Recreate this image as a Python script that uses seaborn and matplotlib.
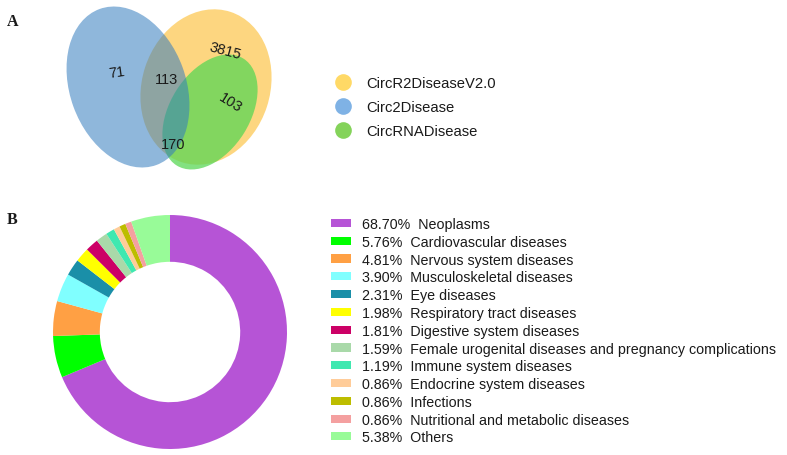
import matplotlib
matplotlib.use("Agg")
import matplotlib.pyplot as plt
from matplotlib.patches import Ellipse
from matplotlib.lines import Line2D
import seaborn as sns

# Panel A: Venn counts
venn_sets = ["CircR2DiseaseV2.0", "Circ2Disease", "CircRNADisease"]
venn_set_colors = ["#FFD966", "#7FB2E5", "#84D35A"]
venn_regions = ["Circ2Disease only", "Circ2Disease & V2.0", "V2.0 only", "V2.0 & CircRNADisease", "all three"]
venn_counts = [71, 113, 3815, 103, 170]

# Panel B: disease categories
categories = [
    "Neoplasms", "Cardiovascular diseases", "Nervous system diseases",
    "Musculoskeletal diseases", "Eye diseases", "Respiratory tract diseases",
    "Digestive system diseases", "Female urogenital diseases and pregnancy complications",
    "Immune system diseases", "Endocrine system diseases", "Infections",
    "Nutritional and metabolic diseases", "Others",
]
percents = [68.70, 5.76, 4.81, 3.90, 2.31, 1.98, 1.81, 1.59, 1.19, 0.86, 0.86, 0.86, 5.38]
cat_colors = [
    "#B654D6", "#00FF00", "#FFA044", "#80FFFF", "#1A8FA8", "#FFFF00",
    "#CC0066", "#A9D9A9", "#40E8B0", "#FFCC99", "#BDBD00", "#F4A0A0", "#98FB98",
]

sns.set_theme(style="white")
plt.rcParams["font.family"] = ["Liberation Sans", "DejaVu Sans"]
text_color = "#1a1a1a"

fig = plt.figure(figsize=(7.87, 4.56), dpi=100)

# ---- Venn (axes in pixel units, y pointing down)
ax_a = fig.add_axes([0, 0.5, 330 / 787, 0.5])
ax_a.set_xlim(0, 330)
ax_a.set_ylim(228, 0)
ax_a.axis("off")

# ellipse layout: (center, width, height, angle, alpha), drawn in this order
shapes = {
    "CircR2DiseaseV2.0": ((206, 88), 128, 158, 18, 0.75, "#FDC955"),
    "CircRNADisease": ((210, 113), 80, 126, 32, 0.75, "#59D755"),
    "Circ2Disease": ((128, 88), 116, 166, -20, 0.55, "#337CBF"),
}
for name, ((cx, cy), w, h, ang, a, col) in shapes.items():
    ax_a.add_patch(Ellipse((cx, cy), w, h, angle=ang, facecolor=col,
                           edgecolor="none", alpha=a))

label_pos = [(117, 73, 8), (167, 80, 0), (225, 51, -15), (230, 103, -32), (173, 145, 0)]
for (x, y, rot), n in zip(label_pos, venn_counts):
    ax_a.text(x, y, str(n), ha="center", va="center", rotation=rot,
              fontsize=10.5, color=text_color)

venn_handles = [Line2D([0], [0], marker="o", linestyle="none", markersize=12,
                       markerfacecolor=c, markeredgecolor="none") for c in venn_set_colors]
fig.legend(venn_handles, venn_sets, loc="upper left",
           bbox_to_anchor=(335 / 787, 1 - 77 / 456), frameon=False,
           borderpad=0, borderaxespad=0, handlelength=1.15, handletextpad=0.95,
           labelspacing=0.68, fontsize=10.6, labelcolor=text_color)

# ---- Donut
ax_b = fig.add_axes([53 / 787, 6 / 456, 234 / 787, 234 / 456])
wedges, _ = ax_b.pie(percents, colors=sns.color_palette(cat_colors), startangle=90,
                     counterclock=False, wedgeprops=dict(width=0.4, linewidth=0))
ax_b.set_xlim(-1, 1)
ax_b.set_ylim(-1, 1)
ax_b.set_aspect("equal")

labels = [f"{p:.2f}%  {c}" for p, c in zip(percents, categories)]
fig.legend(wedges, labels, loc="upper left",
           bbox_to_anchor=(331 / 787, 1 - 218 / 456), frameon=False,
           borderpad=0, borderaxespad=0, handlelength=1.4, handleheight=0.5,
           handletextpad=0.8, labelspacing=0.265, fontsize=10.3, labelcolor=text_color)

fig.text(13 / 787, 1 - 22 / 456, "A", fontsize=11.5, fontweight="bold",
         family="Liberation Serif", ha="center", va="center", color=text_color)
fig.text(12 / 787, 1 - 220 / 456, "B", fontsize=11.5, fontweight="bold",
         family="Liberation Serif", ha="center", va="center", color=text_color)

fig.savefig("out.png", dpi=100)
